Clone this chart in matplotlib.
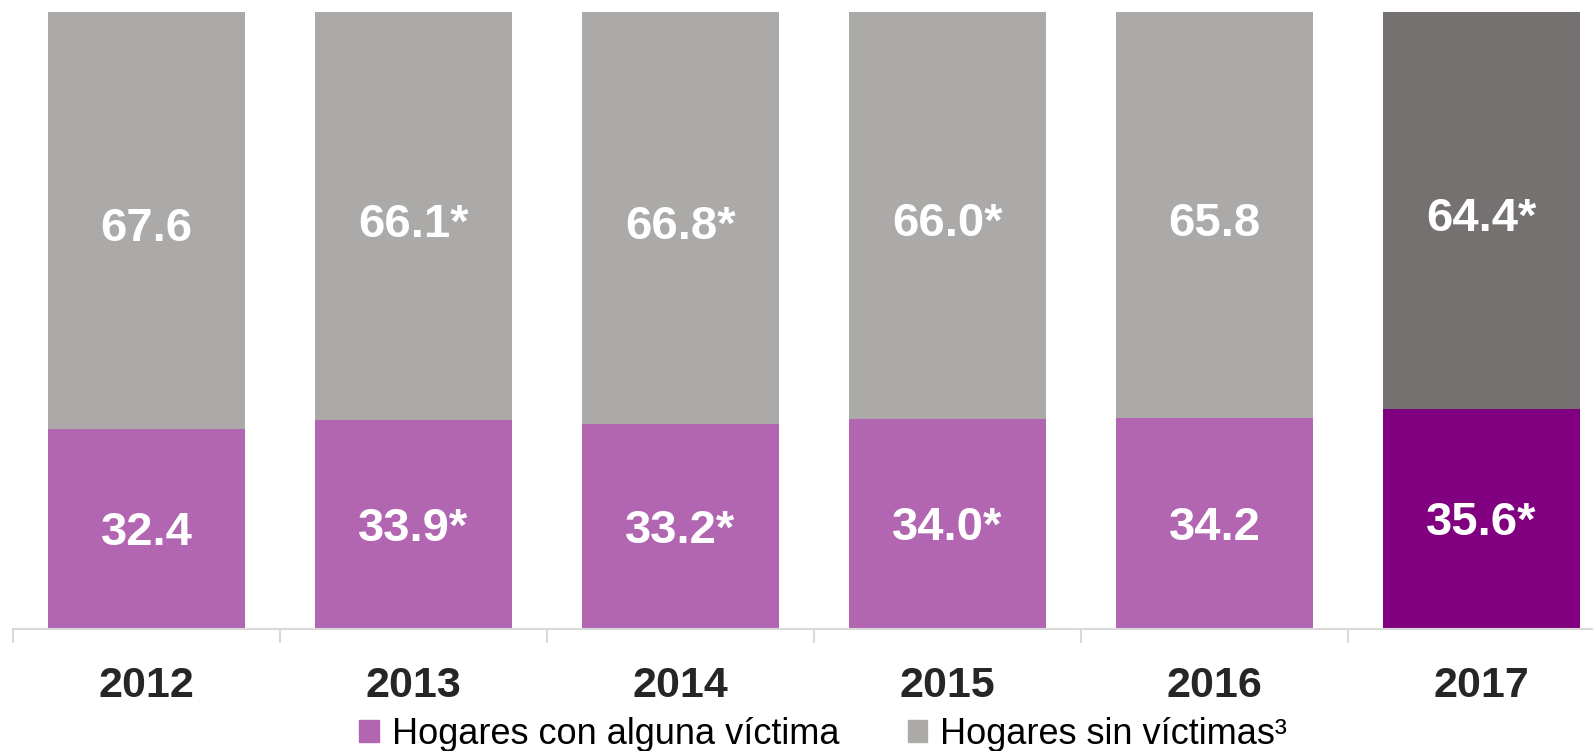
import matplotlib
matplotlib.use("Agg")
import matplotlib.pyplot as plt
from matplotlib.patches import Patch
from matplotlib.transforms import blended_transform_factory
import numpy as np

# Data
years = ['2012', '2013', '2014', '2015', '2016', '2017']
con_victima = [32.4, 33.9, 33.2, 34.0, 34.2, 35.6]
sin_victima = [67.6, 66.1, 66.8, 66.0, 65.8, 64.4]
con_labels = ['32.4', '33.9*', '33.2*', '34.0*', '34.2', '35.6*']
sin_labels = ['67.6', '66.1*', '66.8*', '66.0*', '65.8', '64.4*']
legend_names = ['Hogares con alguna víctima', 'Hogares sin víctimas³']

purple_light = '#b266b2'
purple_dark = '#800080'
gray_light = '#abaaa8'
gray_dark = '#767171'

plt.rcParams['font.family'] = ['Liberation Sans', 'DejaVu Sans']

W, H = 1593, 751
fig = plt.figure(figsize=(W / 100, H / 100), dpi=100)
# plot area runs slightly past the right edge, like the original
ax = fig.add_axes([13 / W, (H - 629) / H, 1602 / W, 617 / H])

x = np.arange(len(years))
bottom_colors = [purple_light] * 5 + [purple_dark]
top_colors = [gray_light] * 5 + [gray_dark]

ax.bar(x, con_victima, width=0.74, color=bottom_colors)
ax.bar(x, sin_victima, width=0.74, bottom=con_victima, color=top_colors)

for i in range(len(years)):
    ax.text(x[i], con_victima[i] / 2 - 0.7, con_labels[i], ha='center', va='center',
            color='white', fontsize=34, fontweight='bold')
    ax.text(x[i], con_victima[i] + sin_victima[i] / 2 - 1.4, sin_labels[i],
            ha='center', va='center', color='white', fontsize=34, fontweight='bold')

ax.set_xlim(-0.5, len(years) - 0.5)
ax.set_ylim(0, 100)
ax.set_yticks([])
for side in ['top', 'right', 'left']:
    ax.spines[side].set_visible(False)
ax.spines['bottom'].set_color('#d9d9d9')
ax.spines['bottom'].set_linewidth(1.5)

# category separators as ticks
ax.set_xticks(np.arange(-0.5, len(years)), minor=True)
ax.tick_params(axis='x', which='minor', length=10, color='#d9d9d9', width=1.5)
ax.set_xticks([])

trans = blended_transform_factory(ax.transData, ax.transAxes)
for i, yr in enumerate(years):
    ax.text(x[i], -0.110, yr, transform=trans, ha='center', va='baseline',
            fontsize=31, fontweight='bold', color='#262626')

handles = [Patch(color=purple_light), Patch(color=gray_light)]
fig.legend(handles, legend_names, loc='center', bbox_to_anchor=(823 / W, 1 - 734 / H),
           ncol=2, frameon=False, handlelength=0.55, handleheight=0.55,
           handletextpad=0.35, columnspacing=1.9, fontsize=26)

fig.savefig('out.png', dpi=100)
